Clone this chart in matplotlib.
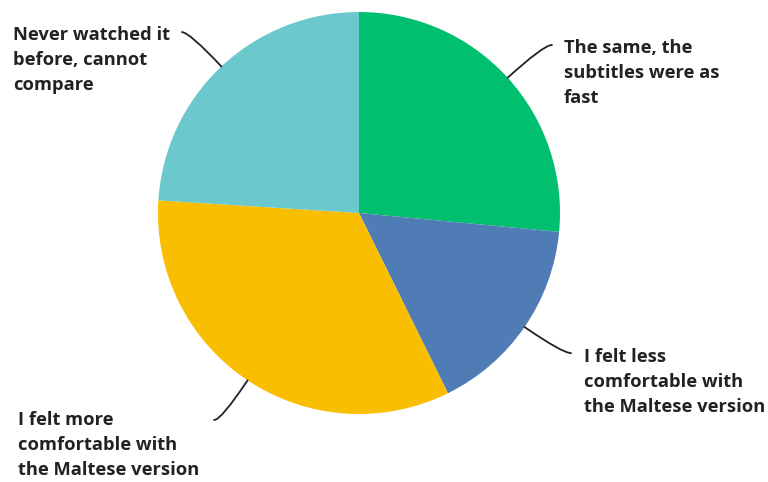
import matplotlib
matplotlib.use("Agg")
import matplotlib.pyplot as plt
import numpy as np

# Data
categories = [
    "The same, the\nsubtitles were as\nfast",
    "I felt less\ncomfortable with\nthe Maltese version",
    "I felt more\ncomfortable with\nthe Maltese version",
    "Never watched it\nbefore, cannot\ncompare",
]
values = [26.5, 16.2, 33.3, 24.0]
colors = ["#00BF6F", "#507CB6", "#F9BE00", "#6BC8CD"]

# Layout (label anchor / leader end, in pie-radius units)
label_pos = [(1.020, 0.697), (1.119, -0.841), (-1.697, -1.154), (-1.721, 0.761)]
line_end = [(0.960, 0.836), (1.055, -0.697), (-0.721, -1.030), (-0.881, 0.900)]

fig = plt.figure(figsize=(7.68, 4.82), dpi=100)
ax = fig.add_axes([0, 0, 1, 1])
cx, cy, R = 359, 213, 201
W, H = 768, 482

wedges, _ = ax.pie(values, colors=colors, startangle=90, counterclock=False,
                   radius=1, wedgeprops=dict(linewidth=0))
ax.set_xlim(-cx / R, (W - cx) / R)
ax.set_ylim(-(H - cy) / R, cy / R)
ax.set_aspect("equal")
ax.axis("off")

for w, lab, lp, le in zip(wedges, categories, label_pos, line_end):
    mid = np.deg2rad((w.theta1 + w.theta2) / 2)
    ex, ey = np.cos(mid), np.sin(mid)
    ax.annotate("", xy=(ex, ey), xytext=le,
                arrowprops=dict(arrowstyle="-", color="#222222", lw=1.3,
                                shrinkA=0, shrinkB=0,
                                connectionstyle="angle3,angleA=0,angleB=%f" % np.rad2deg(mid)))
    ax.text(lp[0], lp[1], lab, ha="left", va="center", fontsize=13.2,
            fontweight="bold", family="Open Sans", color="#222222",
            linespacing=1.48)

fig.savefig("out.png", dpi=100)
